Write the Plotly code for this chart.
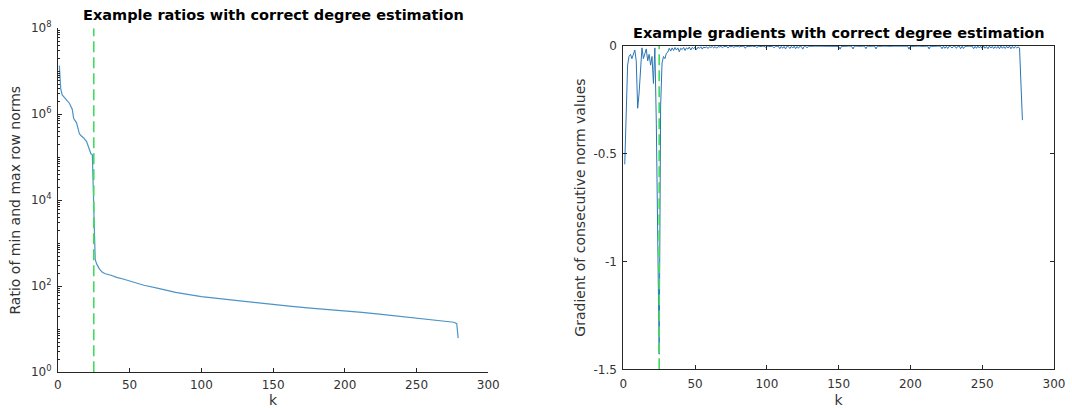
import plotly.graph_objects as go

# ---- Left panel: ratio of min and max row norms (log scale) ----
ratio_k = [1, 2, 3, 5, 8, 10, 11, 13, 15, 16, 18, 20, 22, 23, 24, 25, 26, 27, 29, 31,
           33, 37, 41, 46, 52, 60, 70, 82, 100, 115, 128, 140, 150, 163, 176, 188,
           200, 212, 224, 236, 248, 260, 268, 272, 276, 278, 279]
ratio_vals = [1.35e7, 3.8e6, 2.8e6, 2.3e6, 1.8e6, 1.3e6, 7.9e5, 6.3e5, 3.5e5, 3.2e5,
              2.8e5, 2.3e5, 1.5e5, 1.2e5, 1.15e5, 1.0e4, 4.2e2, 3.3e2, 2.5e2, 2.1e2,
              1.95e2, 1.8e2, 1.6e2, 1.45e2, 1.26e2, 1.05e2, 89, 72, 57, 50, 45, 41,
              37, 34, 31, 29, 27, 24.5, 22.4, 20.4, 18.6, 17, 15.8, 15.5, 14.5, 13.5, 6.2]

# ---- Right panel: gradient of consecutive norm values ----
grad_vals = [
    -0.55, -0.33, -0.09, -0.05, -0.04, -0.06, -0.035, -0.02, -0.07, -0.29,
    -0.22, -0.12, -0.01, -0.06, -0.03, -0.015, -0.07, -0.04, -0.09, -0.05,
    -0.175, -0.01, -0.36, -1.07, -1.43, -0.28, -0.08, -0.05, -0.06, -0.035,
    -0.030, -0.012, -0.025, -0.010, -0.022, -0.008, -0.020, -0.010, -0.028, -0.012,
    -0.018, -0.008, -0.022, -0.010, -0.016, -0.006, -0.020, -0.008, -0.014, -0.006,
    -0.018, -0.007, -0.012, -0.005, -0.016, -0.006, -0.010, -0.005, -0.013, -0.005,
    -0.008, -0.004, -0.010, -0.004, -0.012, -0.004, -0.006, -0.003, -0.009, -0.004,
    -0.005, -0.003, -0.011, -0.003, -0.005, -0.003, -0.008, -0.003, -0.004, -0.002,
    -0.006, -0.003, -0.004, -0.002, -0.012, -0.003, -0.004, -0.003, -0.005, -0.002,
    -0.004, -0.002, -0.009, -0.003, -0.004, -0.002, -0.003, -0.002, -0.007, -0.002,
    -0.003, -0.002, -0.004, -0.002, -0.010, -0.003, -0.002, -0.002, -0.014, -0.003,
    -0.012, -0.003, -0.015, -0.002, -0.004, -0.013, -0.003, -0.011, -0.002, -0.014,
    -0.003, -0.012, -0.002, -0.004, -0.016, -0.003, -0.002, -0.010, -0.002, -0.003,
    -0.002, -0.003, -0.002, -0.002, -0.003, -0.002, -0.002, -0.003, -0.002, -0.002,
    -0.003, -0.002, -0.002, -0.003, -0.002, -0.002, -0.003, -0.002, -0.002, -0.003,
    -0.016, -0.002, -0.003, -0.002, -0.002, -0.003, -0.002, -0.002, -0.003, -0.015,
    -0.002, -0.002, -0.003, -0.002, -0.002, -0.003, -0.002, -0.002, -0.014, -0.002,
    -0.003, -0.002, -0.002, -0.003, -0.002, -0.015, -0.002, -0.003, -0.002, -0.002,
    -0.003, -0.002, -0.002, -0.003, -0.002, -0.002, -0.003, -0.002, -0.002, -0.003,
    -0.002, -0.002, -0.003, -0.002, -0.002, -0.003, -0.002, -0.002, -0.016, -0.002,
    -0.003, -0.002, -0.002, -0.003, -0.002, -0.002, -0.003, -0.002, -0.002, -0.003,
    -0.002, -0.002, -0.015, -0.002, -0.003, -0.002, -0.002, -0.003, -0.002, -0.002,
    -0.003, -0.014, -0.002, -0.012, -0.003, -0.013, -0.002, -0.004, -0.011, -0.003,
    -0.002, -0.012, -0.003, -0.002, -0.014, -0.002, -0.013, -0.003, -0.002, -0.003,
    -0.002, -0.003, -0.002, -0.014, -0.003, -0.012, -0.002, -0.011, -0.003, -0.013,
    -0.002, -0.012, -0.004, -0.014, -0.002, -0.011, -0.003, -0.013, -0.004, -0.012,
    -0.003, -0.014, -0.002, -0.012, -0.004, -0.013, -0.003, -0.011, -0.002, -0.014,
    -0.003, -0.012, -0.004, -0.010, -0.006,
    -0.01, -0.18, -0.345,
]
grad_k = list(range(1, len(grad_vals) + 1))

estimated_degree = 25

left_ticks = [1, 1e2, 1e4, 1e6, 1e8]
left_ticktext = ["10<sup>0</sup>", "10<sup>2</sup>", "10<sup>4</sup>", "10<sup>6</sup>", "10<sup>8</sup>"]
x_ticks = [0, 50, 100, 150, 200, 250, 300]
right_ticks = [0, -0.5, -1, -1.5]
right_ticktext = ["0", "-0.5", "-1", "-1.5"]

FONT = "DejaVu Sans"
TXT = "#333333"
AX = "#262626"
GREEN = "#3ddc5a"

fig = go.Figure()

fig.add_trace(go.Scatter(x=ratio_k, y=ratio_vals, mode="lines",
                         line=dict(color="#4d93c6", width=1.2), xaxis="x", yaxis="y",
                         showlegend=False))
fig.add_trace(go.Scatter(x=[estimated_degree, estimated_degree], y=[1, 1e8], mode="lines",
                         line=dict(color=GREEN, width=1.6, dash="11px,5px"),
                         xaxis="x", yaxis="y", showlegend=False))

fig.add_trace(go.Scatter(x=grad_k, y=grad_vals, mode="lines",
                         line=dict(color="#2a74b4", width=1), xaxis="x2", yaxis="y2",
                         showlegend=False))
fig.add_trace(go.Scatter(x=[estimated_degree, estimated_degree], y=[-1.5, 0], mode="lines",
                         line=dict(color=GREEN, width=1.6, dash="11px,5px"),
                         xaxis="x2", yaxis="y2", showlegend=False))

W, H = 1072, 408
L1, R1, T1, B1 = 57.9, 488.3, 28.2, 372.2
L2, R2, T2, B2 = 623.3, 1054.0, 45.7, 369.3

axis_common = dict(showline=True, linecolor=AX, linewidth=1, ticks="inside", ticklen=4,
                   tickcolor=AX, showgrid=False, zeroline=False, automargin=False,
                   tickfont=dict(family=FONT, size=12, color=TXT))
title_font = dict(family=FONT, size=14, color=TXT)

fig.update_layout(
    width=W, height=H, margin=dict(l=0, r=0, t=0, b=0, autoexpand=False),
    paper_bgcolor="white", plot_bgcolor="white",
    font=dict(family=FONT, color=TXT),
    xaxis=dict(domain=[L1 / W, R1 / W], range=[0, 300], tickvals=x_ticks,
               anchor="y", ticklabelstandoff=1,
               title=dict(text="k", font=title_font, standoff=7),
               **axis_common),
    yaxis=dict(domain=[1 - B1 / H, 1 - T1 / H], type="log", range=[0, 8],
               tickvals=left_ticks, ticktext=left_ticktext, anchor="x",
               ticklabelstandoff=3,
               minor=dict(ticks="inside", ticklen=2, tickcolor=AX, dtick="D1"),
               title=dict(text="Ratio of min and max row norms", font=title_font, standoff=6),
               **axis_common),
    xaxis2=dict(domain=[L2 / W, R2 / W], range=[0, 300], tickvals=x_ticks,
                anchor="y2", mirror="ticks", ticklabelstandoff=3,
                title=dict(text="k", font=title_font, standoff=8),
                **axis_common),
    yaxis2=dict(domain=[1 - B2 / H, 1 - T2 / H], range=[-1.5, 0],
                tickvals=right_ticks, ticktext=right_ticktext, anchor="x2", mirror="ticks",
                ticklabelstandoff=3,
                title=dict(text="Gradient of consecutive norm values", font=title_font, standoff=4),
                **axis_common),
    annotations=[
        dict(text="<b>Example ratios with correct degree estimation</b>",
             x=273.4 / W, y=1 - 15.5 / H, xref="paper", yref="paper",
             showarrow=False, xanchor="center", yanchor="middle",
             font=dict(family=FONT, size=14.5, color="black")),
        dict(text="<b>Example gradients with correct degree estimation</b>",
             x=839 / W, y=1 - 33.3 / H, xref="paper", yref="paper",
             showarrow=False, xanchor="center", yanchor="middle",
             font=dict(family=FONT, size=14.5, color="black")),
    ],
)

fig.write_html("out.html")
